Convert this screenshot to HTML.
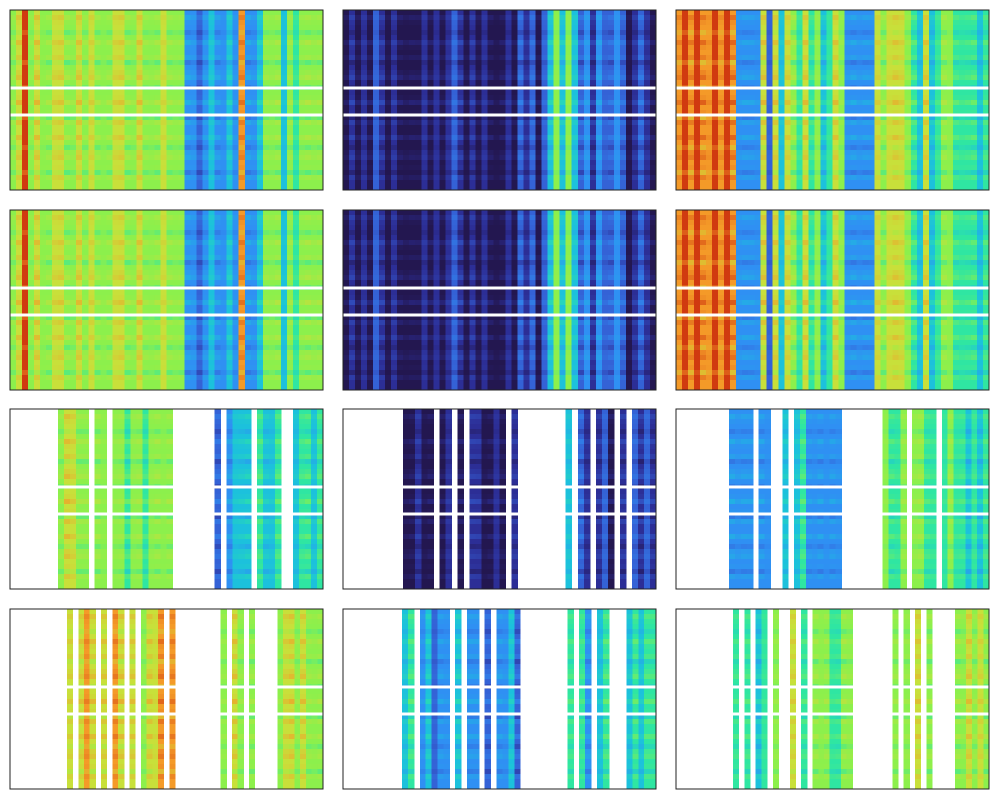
<!DOCTYPE html>
<html><head><meta charset="utf-8">
<style>
html,body{margin:0;padding:0;background:#fff;width:1000px;height:800px;overflow:hidden;font-family:"Liberation Sans",sans-serif}
svg{display:block}
</style></head>
<body>
<svg id="chart" width="1000" height="800" viewBox="0 0 1000 800" shape-rendering="crispEdges"></svg>
<script>
// Column profiles per panel (0..9 colour level, '.' = missing / white)
const panelCols = [
  "6796766776676766677667666766633234334383346664656666",
  "0101021010000101012101010001021202464642313223201210",
  "8989889898333372747657564576333337677765474566555545",
  "6796766776676766677667666766633234334383346664656666",
  "0101021010000101012101010001021202464642313223201210",
  "8989889898333372747657564576333337677765474566555545",
  "........67766.66.6656656666.......2.3444.5445..45545",
  "..........00100.01.0.110010.1........4.21.120.1.2121",
  ".........3333.33..4.45333333.......6556.6655.56554545",
  "..........7.787.7.87.7.6778.8........6.76.6....67767666",
  "..........45.34233.4.33.2.3342........5.53.45...45455",
  "..........5.5.45.6..7.5.6665566.......6.6.7.6....667676"
];
// Row modulation (per row, added to column level)
const rowOffsets = [0,0.4,0.1,0,-0.4,0,0.5,0.1,0,0.3,-0.5,0,0.2,0.5,0,-0.4,0,0.1,0.6,0,0.1,-0.5,0.4,0,0,0.5,0,-0.4,0.2,0.4,0,0.1,-0.5,0.3,0,0];
// Missing-row separators (fraction of panel height)
const separators = [0.433, 0.583];
const colIntensity = [0.6,0.9,0.8,0.5,1.0,0.3,0.9,0.5,0.7,1.1];

const palette = [[35,23,80],[44,46,150],[52,98,214],[47,144,243],[28,193,220],[47,230,162],[140,240,76],[200,224,58],[244,154,40],[208,58,16]];
const panelX = [10,343,676], panelY = [10,210,409,609], PW = 313, PH = 180;
const svg = document.getElementById('chart');
const NS = "http://www.w3.org/2000/svg";

function xScale(i, n){ return i * PW / n; }
function yScale(r, n){ return r * PH / n; }
function colorOf(v){
  v = Math.max(0, Math.min(9, v));
  const i = Math.min(8, Math.floor(v)), t = v - i;
  const a = palette[i], b = palette[i + 1];
  return 'rgb(' + a.map((x, j) => Math.round(x + (b[j] - x) * t)).join(',') + ')';
}

panelCols.forEach((cols, p) => {
  const px = panelX[p % 3], py = panelY[Math.floor(p / 3)];
  const g = document.createElementNS(NS, 'g');
  
  
  g.setAttribute('transform', 'translate(' + px + ',' + py + ')');
  svg.appendChild(g);
  const n = cols.length, m = rowOffsets.length;
  for (let c = 0; c < n; c++) {
    const ch = cols[c];
    if (ch === '.') continue;
    const base = +ch;
    const x0 = xScale(c, n), x1 = xScale(c + 1, n);
    const k = colIntensity[c % colIntensity.length];
    for (let r = 0; r < m; r++) {
      const y0 = yScale(r, m), y1 = yScale(r + 1, m);
      const rect = document.createElementNS(NS, 'rect');
      
      
      rect.setAttribute('x', x0.toFixed(2));
      rect.setAttribute('y', y0.toFixed(2));
      rect.setAttribute('width', (x1 - x0 + 0.5).toFixed(2));
      rect.setAttribute('height', (y1 - y0 + 0.5).toFixed(2));
      rect.setAttribute('fill', colorOf(base + rowOffsets[r] * k));
      g.appendChild(rect);
    }
  }
  separators.forEach(f => {
    const s = document.createElementNS(NS, 'rect');
    
    
    s.setAttribute('x', 0); s.setAttribute('y', (f * PH - 1.5).toFixed(1));
    s.setAttribute('width', PW); s.setAttribute('height', 3);
    s.setAttribute('fill', '#ffffff');
    g.appendChild(s);
  });
  const frame = document.createElementNS(NS, 'rect');
  
  
  frame.setAttribute('x', 0); frame.setAttribute('y', 0);
  frame.setAttribute('width', PW); frame.setAttribute('height', PH);
  frame.setAttribute('fill', 'none'); frame.setAttribute('stroke', '#222'); frame.setAttribute('stroke-width', 1.2);
  g.appendChild(frame);
});
</script>
</body></html>
